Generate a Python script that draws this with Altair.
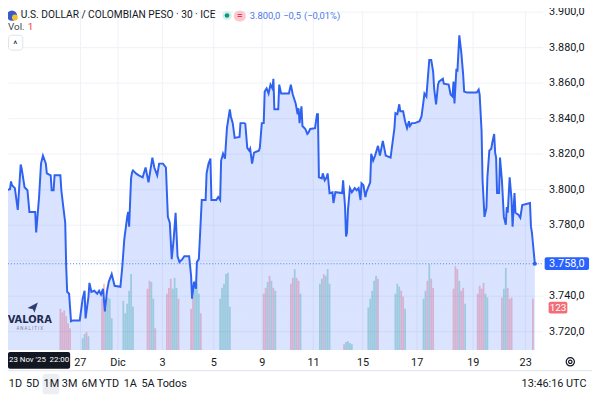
import altair as alt
import pandas as pd

# ---------------- data ----------------
# time position (chart time units along the session axis) and close price
t = [0, 5, 6, 7, 10, 13, 16, 17, 20, 23, 25, 31, 32, 35, 37, 39, 42, 43, 47, 48, 50, 51, 57, 58, 60, 62, 63, 64, 66, 68,
     70, 77, 80, 82, 83, 86, 87, 89, 92, 95, 97, 99, 101, 103, 105, 107, 110, 113, 119, 121, 123, 126, 127, 128, 130, 131,
     132, 135, 138, 142, 145, 148, 152, 154, 157, 159, 163, 166, 168, 170, 172, 174, 176, 178, 180, 183, 185, 190, 192,
     193, 195, 197, 198, 200, 202, 203, 207, 208, 210, 212, 213, 218, 220, 222, 223, 225, 227, 229, 232, 233, 235, 237,
     242, 243, 247, 248, 250, 252, 253, 255, 257, 262, 263, 265, 267, 268, 270, 272, 274, 276, 277, 278, 282, 283, 285,
     293, 295, 297, 300, 302, 303, 304, 306, 307, 310, 312, 313, 315, 320, 322, 323, 324, 327, 328, 330, 332, 333, 335,
     338, 339, 341, 348, 349, 351, 352, 353, 354, 356, 358, 361, 363, 365, 367, 368, 370, 372, 373, 375, 377, 378, 380,
     382, 385, 387, 390, 392, 393, 398, 400, 402, 403, 405, 407, 408, 411, 413, 415, 417, 418, 420, 423, 428, 430, 432,
     433, 435, 437, 438, 440, 442, 443, 445, 447, 448, 452, 453, 458, 460, 462, 463, 464, 466, 467, 469, 471, 473, 474,
     477, 487, 489, 490, 492, 493, 495, 497, 498, 500, 502, 503, 505, 506, 507, 508, 510, 511, 513, 515, 517, 518, 519,
     521, 523, 524, 526, 527, 530, 532, 534, 542, 543, 544, 547]
price = [3799.4, 3800.0, 3804.4, 3802.2, 3800.6, 3788.3, 3813.9, 3811.7, 3801.1, 3799.4, 3787.2, 3787.2, 3775.6, 3795.6,
         3814.4, 3818.9, 3814.4, 3808.9, 3807.8, 3799.4, 3799.4, 3807.8, 3807.8, 3799.4, 3790.0, 3781.1, 3756.7, 3742.2,
         3741.1, 3725.6, 3726.1, 3726.1, 3738.3, 3742.8, 3727.2, 3739.4, 3747.2, 3742.2, 3742.8, 3741.1, 3742.8, 3740.6,
         3743.9, 3731.1, 3742.2, 3747.8, 3752.2, 3745.6, 3745.0, 3756.7, 3771.7, 3784.4, 3787.2, 3778.9, 3806.1, 3809.4,
         3810.6, 3808.9, 3807.8, 3806.7, 3812.2, 3803.9, 3817.8, 3812.2, 3807.8, 3814.4, 3814.4, 3812.2, 3784.4, 3781.1,
         3760.6, 3771.7, 3786.7, 3762.2, 3758.9, 3760.6, 3762.2, 3762.2, 3751.1, 3738.3, 3747.8, 3743.9, 3758.9, 3760.6,
         3782.8, 3793.9, 3793.9, 3808.9, 3814.4, 3817.2, 3793.9, 3793.9, 3795.6, 3793.9, 3816.1, 3820.0, 3817.2, 3834.4,
         3845.0, 3841.1, 3837.2, 3828.9, 3829.4, 3837.2, 3837.2, 3836.7, 3823.3, 3821.7, 3822.8, 3814.4, 3820.6, 3821.7,
         3823.3, 3837.2, 3837.2, 3855.0, 3856.7, 3853.9, 3858.9, 3856.7, 3862.2, 3845.0, 3845.0, 3858.9, 3853.9, 3853.9,
         3858.9, 3853.3, 3848.3, 3842.2, 3845.6, 3837.2, 3846.7, 3835.6, 3833.9, 3831.1, 3831.7, 3833.9, 3834.4, 3842.2,
         3842.2, 3806.7, 3806.1, 3808.9, 3805.0, 3806.7, 3808.9, 3797.8, 3798.3, 3792.2, 3798.3, 3797.8, 3805.0, 3790.0,
         3773.3, 3775.6, 3788.3, 3800.6, 3798.3, 3800.6, 3799.4, 3800.6, 3793.9, 3803.3, 3802.2, 3795.6, 3798.3, 3801.1,
         3803.9, 3820.0, 3816.1, 3818.9, 3824.4, 3818.9, 3827.2, 3821.7, 3818.9, 3817.8, 3826.1, 3834.4, 3842.8, 3842.2,
         3847.8, 3843.9, 3843.9, 3838.3, 3834.4, 3838.3, 3835.6, 3837.2, 3837.2, 3838.3, 3841.1, 3849.4, 3853.9, 3852.2,
         3866.1, 3872.8, 3872.8, 3866.1, 3856.7, 3847.8, 3858.9, 3860.6, 3862.2, 3859.4, 3858.9, 3853.3, 3852.2, 3860.6,
         3848.3, 3867.8, 3866.1, 3886.7, 3877.2, 3864.4, 3855.0, 3854.4, 3854.4, 3856.1, 3853.3, 3832.8, 3805.0, 3784.4,
         3789.4, 3806.7, 3821.7, 3822.8, 3826.1, 3831.1, 3820.6, 3817.8, 3797.8, 3797.8, 3817.8, 3805.0, 3784.4, 3780.0,
         3790.0, 3786.7, 3806.7, 3793.9, 3778.9, 3797.8, 3786.7, 3785.6, 3783.9, 3791.1, 3792.2, 3778.9, 3775.6, 3758.0]

# volume bars: time position, volume, direction (d = down/red, u = up/teal)
vol_t = [57, 59, 61, 63, 65, 67,
         80, 82, 84, 86,
         100, 102, 104, 106, 108, 110,
         122, 124, 126, 128, 130, 132,
         147, 149, 151, 153, 155,
         167, 169, 171, 173, 175, 177, 179,
         192, 194, 196, 198, 200, 202,
         222, 224, 226, 228, 230, 232,
         267, 269, 271, 273, 275, 277, 279,
         295, 297, 299, 301, 303, 305,
         325, 327, 329, 331, 333, 335,
         350, 352, 354, 356, 358,
         375, 377, 379, 381, 383, 385,
         403, 405, 407, 409, 411, 413,
         432, 434, 436, 438, 440, 442,
         463, 465, 467, 469, 471, 473, 475,
         488, 490, 492, 494, 496, 498,
         513, 515, 517, 519, 521, 523,
         545]
vol = [99, 90, 95, 81, 64, 52,
       28, 38, 43, 33,
       123, 159, 99, 126, 123, 76,
       118, 88, 111, 142, 182, 104,
       147, 166, 163, 123, 52,
       135, 149, 171, 147, 173, 149, 123,
       99, 126, 166, 159, 135, 88,
       123, 149, 159, 182, 185, 104,
       135, 149, 163, 178, 166, 149, 142,
       159, 173, 194, 173, 166, 135,
       159, 171, 182, 178, 194, 159,
       14, 19, 21, 17, 14,
       102, 123, 142, 166, 178, 171,
       135, 159, 152, 142, 128, 99,
       123, 142, 166, 206, 171, 149,
       147, 201, 194, 166, 142, 149, 111,
       135, 154, 147, 161, 135, 126,
       126, 147, 197, 149, 123, 126,
       123]
vol_dir = ["d", "d", "d", "d", "d", "d",
           "u", "u", "d", "u",
           "d", "d", "u", "u", "u", "u",
           "u", "u", "u", "u", "u", "u",
           "d", "d", "u", "u", "d",
           "d", "d", "d", "u", "u", "u", "d",
           "d", "d", "u", "u", "u", "d",
           "u", "u", "u", "u", "u", "u",
           "d", "d", "u", "d", "u", "d", "u",
           "d", "d", "u", "d", "d", "u",
           "u", "u", "d", "u", "u", "u",
           "d", "u", "u", "u", "u",
           "u", "u", "u", "u", "u", "d",
           "u", "u", "u", "d", "d", "u",
           "u", "u", "d", "u", "d", "d",
           "d", "d", "d", "u", "d", "d", "u",
           "d", "d", "d", "d", "u", "u",
           "d", "u", "u", "d", "d", "d",
           "d"]

# axes
time_ticks = [77, 116, 162, 215, 265, 318, 369, 425, 483, 537]
time_labels = ["27", "Dic", "3", "5", "9", "11", "15", "17", "19", "23"]
price_ticks = [3720, 3740, 3760, 3780, 3800, 3820, 3840, 3860, 3880, 3900]
last_price = 3758.0
last_volume = 123

T_DOMAIN = [8, 550]
P_DOMAIN = [3709.44, 3900.56]
W, H = 542, 344

FONT = "Roboto"
INK = "#131722"

df = pd.DataFrame({"t": t, "price": price})
dv = pd.DataFrame({"t": vol_t, "vol": vol, "dir": vol_dir})
one = pd.DataFrame({"a": [0]})

label_expr = " : ".join(f"datum.value == {v} ? '{s}'" for v, s in zip(time_ticks, time_labels)) + " : ''"
# the 3.760,0 label sits under the last-price tag, as in the reference
price_label_expr = "datum.value == 3760 ? '' : format(datum.value/1000, '.3f') + ',0'"

xscale = alt.Scale(domain=T_DOMAIN, nice=False, zero=False)
yscale = alt.Scale(domain=P_DOMAIN, nice=False, zero=False)

x_enc = alt.X("t:Q", scale=xscale,
              axis=alt.Axis(values=time_ticks, labelExpr=label_expr, title=None, ticks=False, domain=False,
                            grid=True, gridColor="#f0f2f7", labelFont=FONT, labelFontSize=11, labelColor=INK,
                            labelPadding=7, labelOverlap=False, labelFlush=False, labelBound=False))

vol_layer = alt.Chart(dv).mark_bar(size=1.8, clip=True).encode(
    x=x_enc,
    y=alt.Y("vol:Q", scale=alt.Scale(domain=[0, 814], nice=False), axis=None),
    color=alt.Color("dir:N", scale=alt.Scale(domain=["d", "u"],
                                             range=["rgba(242,54,69,0.30)", "rgba(8,153,129,0.30)"]),
                    legend=None),
)

grad = alt.Gradient(gradient="linear",
                    stops=[alt.GradientStop(color="rgba(41,98,255,0.18)", offset=0),
                           alt.GradientStop(color="rgba(41,98,255,0.03)", offset=1)],
                    x1=1, x2=1, y1=0, y2=1)

area = alt.Chart(df).mark_area(color=grad, clip=True).encode(
    x=x_enc,
    y=alt.Y("price:Q", scale=yscale,
            axis=alt.Axis(orient="right", values=price_ticks, title=None, ticks=False, domain=False,
                          grid=True, gridColor="#f0f2f7", labelFont=FONT, labelFontSize=11, labelColor=INK,
                          labelPadding=6, labelExpr=price_label_expr,
                          labelOverlap=False, labelFlush=False, labelBound=False)),
    y2=alt.value(H),
)

line = alt.Chart(df).mark_line(color="#2f62f0", strokeWidth=2, clip=True).encode(
    x=x_enc,
    y=alt.Y("price:Q", scale=yscale, axis=None),
)

last_rule = alt.Chart(pd.DataFrame({"p": [last_price]})).mark_rule(
    color="#5b7fe6", strokeDash=[1, 2], strokeWidth=1).encode(
    y=alt.Y("p:Q", scale=yscale, axis=None), x=alt.value(0), x2=alt.value(W))

last_dot = alt.Chart(pd.DataFrame({"t": [t[-1]], "p": [last_price]})).mark_point(
    filled=True, size=18, color="#2f62f0", opacity=1).encode(
    x=x_enc, y=alt.Y("p:Q", scale=yscale, axis=None))


def txt(text, x, y, size=11, color=INK, align="left", weight="normal", font=FONT, baseline="middle"):
    return alt.Chart(one).mark_text(text=text, align=align, baseline=baseline, fontSize=size, color=color,
                                    fontWeight=weight, font=font).encode(x=alt.value(x), y=alt.value(y))


def box(x, x2, y, y2, color, radius=0, stroke=None):
    kw = dict(color=color, cornerRadius=radius)
    if stroke:
        kw["stroke"] = stroke
        kw["strokeWidth"] = 1
    return alt.Chart(one).mark_rect(**kw).encode(x=alt.value(x), x2=alt.value(x2), y=alt.value(y), y2=alt.value(y2))


def dot(x, y, size, color, shape="circle", angle=0):
    return alt.Chart(one).mark_point(filled=True, size=size, color=color, opacity=1, shape=shape, angle=angle).encode(
        x=alt.value(x), y=alt.value(y))


def hline(y, x, x2, color):
    return alt.Chart(one).mark_rule(color=color, strokeWidth=1).encode(y=alt.value(y), x=alt.value(x), x2=alt.value(x2))


annotations = [
    # header
    dot(4, 5, 110, "#3a5bc7"),
    dot(7, 7, 35, "#f4c430"),
    txt("U.S. DOLLAR / COLOMBIAN PESO · 30 · ICE", 13, 4.5, size=10.3),
    dot(222, 5, 90, "#d5efe9"),
    dot(222, 5, 22, "#089981"),
    box(229, 241, 0, 11, "#f9c9d2", radius=5),
    txt("=", 235, 5, size=10, color="#f23645", align="center", weight="bold"),
    txt("3.800,0", 245, 5, size=9.5, color="#4a78e6"),
    txt("−0,5", 279, 5, size=9.5, color="#4a78e6"),
    txt("(−0,01%)", 300, 5, size=9.5, color="#4a78e6"),
    txt("Vol.", 0, 17, size=10, color="#42464f"),
    txt("1", 20, 17, size=10, color="#f23645"),
    box(0.5, 15, 25, 40, "white", radius=3, stroke="#e0e3eb"),
    txt("^", 7.5, 34, size=10, align="center"),
    # logo
    dot(25, 301, 110, "#2c3d6e", shape="M-1,0.1 L1,-1 L0.35,1 L0.05,0.35 Z"),
    txt("VALORA", 22, 314, size=10, color="#1f2c52", weight="bold", align="center", font="DejaVu Sans"),
    txt("A N A L I T I X", 22, 323, size=4.5, color="#7a8099", align="center"),
    # price scale boxes
    box(544, 589, 250, 263, "#2962ff", radius=2),
    txt("3.758,0", 566.5, 256.5, size=11, color="white", align="center"),
    box(548, 567, 295, 307, "#f26d76", radius=2),
    txt(str(last_volume), 557.5, 301, size=10, color="white", align="center"),
    # time axis extras
    box(0, 63, 346, 363, "#131722", radius=2),
    txt("23 Nov '25", 1, 354.5, size=8, color="white"),
    txt("22:00", 62, 354.5, size=8, color="white", align="right"),
    dot(570, 356, 70, "white"),
    alt.Chart(one).mark_point(size=70, color=INK, strokeWidth=1.2, opacity=1).encode(x=alt.value(570), y=alt.value(356)),
    alt.Chart(one).mark_point(size=12, color=INK, strokeWidth=1.2, opacity=1).encode(x=alt.value(570), y=alt.value(356)),
    hline(365, -8, 592, "#e0e3eb"),
    # toolbar
    box(35, 52, 368, 389, "#eceef2", radius=3),
]
for lab, cx in zip(["1D", "5D", "1M", "3M", "6M", "YTD", "1A", "5A", "Todos"],
                   [7.5, 25, 44, 62.5, 82.5, 102.5, 124, 142, 166]):
    annotations.append(txt(lab, cx, 378.5, size=11, align="center"))
annotations.append(txt("13:46:16 UTC", 553.5, 378.5, size=11, align="center"))

chart = alt.layer(vol_layer, area, line, last_rule, last_dot, *annotations).resolve_scale(
    y="independent"
).properties(
    width=W, height=H,
    autosize=alt.AutoSizeParams(type="none"),
    padding={"left": 0, "top": 0, "right": 50, "bottom": 45},
    background="white",
).configure_view(stroke=None)

chart.save("out.html", embed_options={"renderer": "svg", "actions": False})
